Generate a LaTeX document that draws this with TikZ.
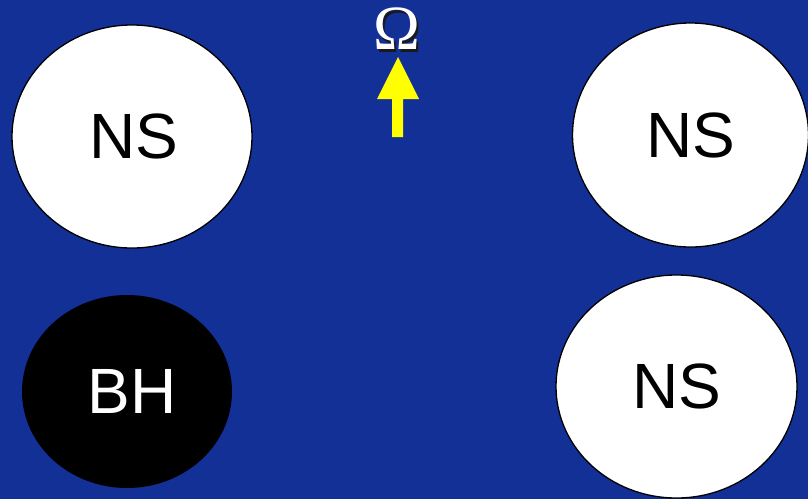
\documentclass[tikz,border=0pt]{standalone}
\usepackage{fontspec}
\setmainfont{Liberation Sans}
\newfontfamily\omegafont{Liberation Serif}
\usetikzlibrary{shapes.geometric}
\definecolor{bgblue}{RGB}{18,48,150}
\definecolor{arrowyellow}{RGB}{255,255,0}
\definecolor{shadowgray}{RGB}{25,25,35}
\tikzset{
  bodybase/.style={ellipse, draw=black, line width=1.3pt, inner sep=0pt,
    font=\fontsize{64}{64}\selectfont},
  nstar/.style={bodybase, fill=white, text=black},
  bhole/.style={bodybase, fill=black, text=white, draw=none},
  omegastyle/.style={font=\omegafont\fontsize{63}{63}\selectfont, inner sep=0pt},
}
\newcommand{\omglyph}{\symbol{"03A9}}
\begin{document}
\begin{tikzpicture}[x=1pt,y=-1pt]
\fill[bgblue] (0,0) rectangle (808,499);
\useasboundingbox (0,0) rectangle (808,499);
\node[nstar, minimum width=240pt, minimum height=223pt] (ns1) at (132,136.5) {\hspace{3pt}NS};
\node[nstar, minimum width=236pt, minimum height=224pt] (ns2) at (690.5,135) {NS};
\node[bhole, minimum width=210pt, minimum height=193pt] (bh) at (127,391.5) {\hspace{10pt}BH};
\node[nstar, minimum width=241pt, minimum height=223pt] (ns3) at (676.5,386.5) {NS};
\fill[arrowyellow] (392,137) -- (392,99) -- (377,99) -- (398,57) -- (419,99) -- (403,99) -- (403,137) -- cycle;
\node[omegastyle] (omega) at (396.5,30.5)
  {\rlap{\kern2.8pt\raisebox{-2.8pt}{\color{shadowgray}\omglyph}}\color{white}\omglyph};
\end{tikzpicture}
\end{document}
